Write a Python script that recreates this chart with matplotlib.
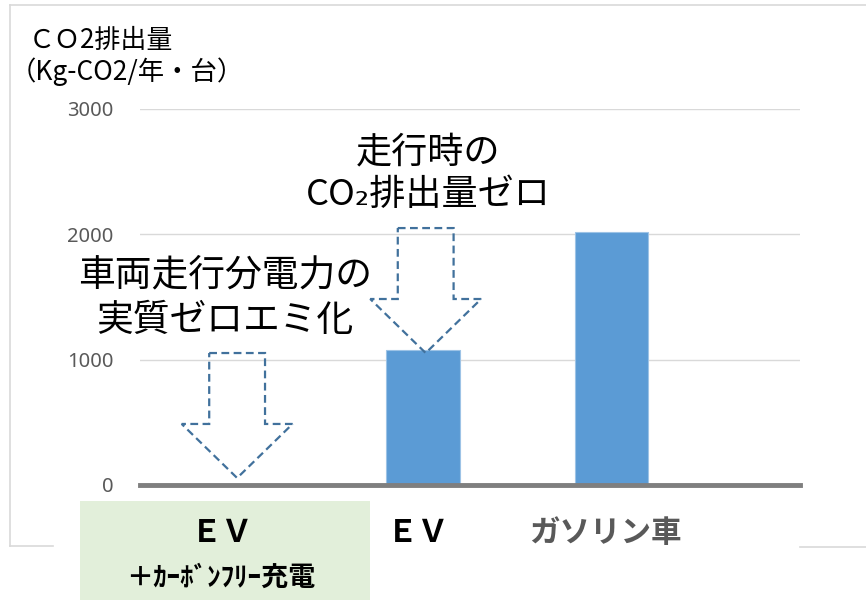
import matplotlib
matplotlib.use("Agg")
import matplotlib.pyplot as plt
from matplotlib.patches import Polygon, Rectangle
from matplotlib.lines import Line2D

plt.rcParams['font.family'] = ['Noto Sans CJK JP', 'DejaVu Sans']

# ---- data ----
categories = ["ＥＶ\n＋ｶｰﾎﾞﾝﾌﾘｰ充電", "ＥＶ", "ガソリン車"]
values = [0, 1080, 2020]
yticks = [0, 1000, 2000, 3000]
ylabel_lines = ["ＣＯ2排出量", "（Kg-CO2/年・台）"]
note_left = "車両走行分電力の\n実質ゼロエミ化"
note_mid = "走行時の\nCO₂排出量ゼロ"

W, H = 866, 600
fig = plt.figure(figsize=(W / 100, H / 100), dpi=100)
fig.patch.set_facecolor("white")

def fx(px):
    return px / W

def fy(py):
    return 1 - py / H

# outer frame (light gray)
frame_c = "#d9d9d9"
fig.add_artist(Line2D([fx(10), fx(10)], [fy(5), fy(546)], color=frame_c, lw=1.2))
fig.add_artist(Line2D([fx(10), 1], [fy(5), fy(5)], color=frame_c, lw=1.2))
fig.add_artist(Line2D([fx(10), fx(53)], [fy(546), fy(546)], color=frame_c, lw=1.2))
fig.add_artist(Line2D([fx(800), 1], [fy(547), fy(547)], color=frame_c, lw=1.2))

ax = fig.add_axes([fx(140), fy(485), fx(800) - fx(140), fy(109) - fy(485)])
ax.set_facecolor("none")
x = list(range(len(categories)))
ax.bar(x, values, width=0.39, color="#5b9bd5", edgecolor="#9dc3e6", linewidth=0.8, zorder=2)
ax.set_xlim(-0.5, 3.0)
ax.set_ylim(0, 3000)
ax.set_yticks(yticks)
ax.set_yticklabels([str(v) for v in yticks], family=['Noto Sans', 'DejaVu Sans'],
                   fontsize=14.5, color="#595959")
ax.tick_params(axis='y', length=0, pad=19)
ax.set_xticks([])
for s in ax.spines.values():
    s.set_visible(False)
ax.grid(axis='y', color="#d9d9d9", lw=1.0, zorder=0)
ax.axhline(0, color="#7f7f7f", lw=3.5, zorder=3, clip_on=False)

# dashed arrows (shape in data units relative to category position)
def down_arrow(xc, tip, shaft_top, head_base, half_head=0.294, half_shaft=0.148):
    pts = [(xc - half_shaft, shaft_top), (xc + half_shaft, shaft_top),
           (xc + half_shaft, head_base), (xc + half_head, head_base),
           (xc, tip), (xc - half_head, head_base), (xc - half_shaft, head_base)]
    ax.add_patch(Polygon(pts, closed=True, facecolor="none", edgecolor="#41719c",
                         lw=1.6, ls=(0, (3.5, 2.0)), zorder=4, clip_on=False))

down_arrow(0.015, 56, 1053, 487)
down_arrow(1.015, 1053, 2050, 1484)

# annotations
fig.text(fx(225), fy(298), note_left, ha="center", va="center", fontsize=26.5,
         color="black", linespacing=1.22)
fig.text(fx(428), fy(174), note_mid, ha="center", va="center", fontsize=26,
         color="black", linespacing=1.22)

# y label
fig.text(fx(29), fy(40), ylabel_lines[0], ha="left", va="center", fontsize=18.7, color="black")
fig.text(fx(10), fy(72), ylabel_lines[1], ha="left", va="center", fontsize=19, color="black")

# category label area
fig.add_artist(Rectangle((fx(80), 0), fx(370) - fx(80), fy(501), facecolor="#e2efda",
                         edgecolor="none", transform=fig.transFigure, zorder=0))
ev1, ev1_sub = categories[0].split("\n")
fig.text(fx(222), fy(533), ev1, ha="center", va="center", fontsize=22.5,
         fontweight="bold", color="black")
fig.text(fx(221), fy(578), ev1_sub, ha="center", va="center", fontsize=19.5,
         fontweight="bold", color="black")
fig.text(fx(418), fy(533), categories[1], ha="center", va="center", fontsize=22.5,
         fontweight="bold", color="black")
fig.text(fx(605), fy(533), categories[2], ha="center", va="center", fontsize=22,
         fontweight="bold", color="#595959")

fig.savefig("out.png", dpi=100, facecolor="white")
